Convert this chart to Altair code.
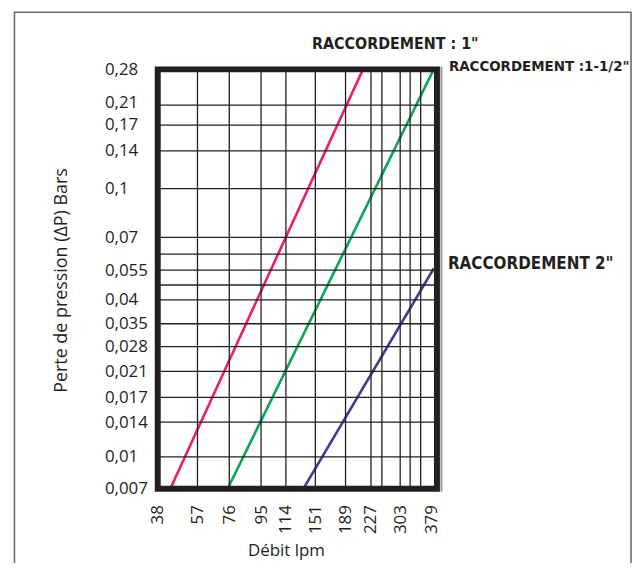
import altair as alt
import pandas as pd

# ---- data ----
x_labels = [38, 57, 76, 95, 114, 151, 189, 227, 303, 379]
x_grid = [57, 76, 95, 114, 151, 189, 227, 265, 303, 341, 360]
y_labels = [0.007, 0.01, 0.014, 0.017, 0.021, 0.028, 0.035, 0.04, 0.055,
            0.07, 0.1, 0.14, 0.17, 0.21, 0.28]
y_grid = [0.01, 0.014, 0.017, 0.021, 0.028, 0.035, 0.04, 0.048, 0.055,
          0.062, 0.07, 0.1, 0.14, 0.17, 0.21]

series = ["RACCORDEMENT : 1\"", "RACCORDEMENT :1-1/2\"", "RACCORDEMENT 2\""]
x_start = [44, 75, 136]
x_end = [215, 388, 388]
y_start = [0.007, 0.007, 0.007]
y_end = [0.28, 0.28, 0.0557]
colors = ["#EC1C6E", "#0AA55A", "#3A3C96"]

# ---- geometry of the (non-uniform) graph paper ----
W, H = 281, 422
x_breaks = [38, 57, 76, 95, 114, 151, 189, 227, 265, 303, 341, 360, 379, 400]
x_pix = [0, 40, 72, 104, 129, 158.6, 189, 214.6, 225.6, 244, 254, 264.6, 275.3, 281]
y_breaks = [0.007, 0.01, 0.014, 0.017, 0.021, 0.028, 0.035, 0.04, 0.048, 0.055,
            0.062, 0.07, 0.1, 0.14, 0.17, 0.21, 0.28]
y_pix = [422, 390, 355, 330, 304, 279, 256, 232, 217, 202, 186, 169, 120, 82, 56, 36, 0]

xs = alt.Scale(type="linear", domain=x_breaks, range=x_pix, nice=False, zero=False)
ys = alt.Scale(type="linear", domain=y_breaks, range=y_pix, nice=False, zero=False)

rows = []
for s, a, b, c, d in zip(series, x_start, x_end, y_start, y_end):
    rows.append({"serie": s, "debit": a, "perte": c, "o": 0})
    rows.append({"serie": s, "debit": b, "perte": d, "o": 1})
lines_df = pd.DataFrame(rows)

one = pd.DataFrame({"a": [0]})
FONT = "Open Sans"
INK = "#231F20"

border = alt.Chart(one).mark_rect(fill="transparent", stroke="#6b6b6b", strokeWidth=1.6).encode(
    x=alt.value(-144.2), x2=alt.value(476.3), y=alt.value(-57.5), y2=alt.value(540)
)

vgrid = alt.Chart(pd.DataFrame({"debit": x_grid})).mark_rule(color=INK, strokeWidth=1.3).encode(
    x=alt.X("debit:Q", scale=xs, axis=None), y=alt.value(0), y2=alt.value(H)
)
hgrid = alt.Chart(pd.DataFrame({"perte": y_grid})).mark_rule(color=INK, strokeWidth=1.3).encode(
    y=alt.Y("perte:Q", scale=ys, axis=None), x=alt.value(0), x2=alt.value(W)
)

lines = alt.Chart(lines_df).mark_line(strokeWidth=2.6).encode(
    x=alt.X("debit:Q", scale=xs,
            axis=alt.Axis(values=x_labels, title="Débit lpm", grid=False, domain=False,
                          ticks=False, labelAngle=270, labelPadding=16,
                          labelOverlap=False, labelFlush=False, labelBound=False,
                          labelFont=FONT, labelFontSize=17, labelColor=INK,
                          titleFont=FONT, titleFontSize=17, titleFontWeight="normal",
                          titleColor=INK, titleX=129, titleY=62,
                          titleAlign="center", titleBaseline="middle")),
    y=alt.Y("perte:Q", scale=ys,
            axis=alt.Axis(values=y_labels, title="Perte de pression (ΔP) Bars", grid=False,
                          domain=False, ticks=False, labelAlign="left", labelPadding=53.7,
                          labelBaseline="middle", labelOverlap=False, labelFlush=False,
                          labelBound=False,
                          labelOffset={"condition": {"test": "datum.value == 0.21", "value": -3},
                                       "value": 0},
                          labelExpr="replace(toString(datum.value), '.', ',')",
                          labelFont=FONT, labelFontSize=17, labelColor=INK,
                          titleFont=FONT, titleFontSize=18, titleFontWeight="normal",
                          titleColor=INK, titleX=-97, titleY=212, titleAngle=270,
                          titleAlign="center", titleBaseline="middle")),
    color=alt.Color("serie:N", scale=alt.Scale(domain=series, range=colors), legend=None),
    order="o:Q",
)

shadow = alt.Chart(one).mark_rule(color="#9a9a9a", strokeWidth=2).encode(
    x=alt.value(285.5), y=alt.value(-3), y2=alt.value(425)
)
frame = alt.Chart(one).mark_rect(fill="transparent", stroke=INK, strokeWidth=6).encode(
    x=alt.value(0), x2=alt.value(W), y=alt.value(0), y2=alt.value(H)
)

LF = "Liberation Sans Narrow, DejaVu Sans Condensed, Liberation Sans"
t1 = alt.Chart(one).mark_text(text=series[0], align="left", baseline="middle", font=LF,
                              fontSize=16, fontWeight="bold", color=INK).encode(
    x=alt.value(155.3), y=alt.value(-25.5))
t2 = alt.Chart(one).mark_text(text=series[1], align="left", baseline="middle", font=LF,
                              fontSize=15, fontWeight=600, color=INK).encode(
    x=alt.value(293), y=alt.value(-3.7))
t3 = alt.Chart(one).mark_text(text=series[2], align="left", baseline="middle", font=LF,
                              fontSize=17, fontWeight="bold", color=INK).encode(
    x=alt.value(292), y=alt.value(196))

chart = alt.layer(border, lines, vgrid, hgrid, shadow, frame, t1, t2, t3).resolve_axis(
    x="independent", y="independent"
).properties(
    width=W, height=H,
    autosize=alt.AutoSizeParams(type="none"),
    padding={"left": 150.7, "top": 60, "right": 198.3, "bottom": 73},
).configure_view(stroke=None).configure(background="white")

chart.save("out.html", embed_options={"renderer": "svg", "actions": False})
